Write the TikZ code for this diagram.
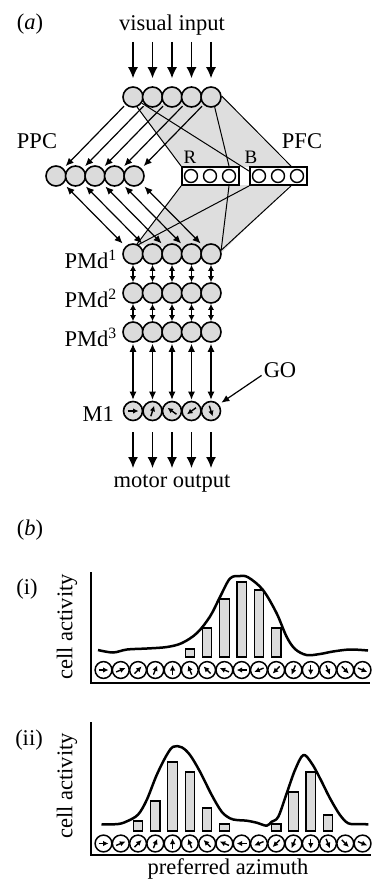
\documentclass[tikz,border=0pt]{standalone}
\usepackage{fontspec}
\setmainfont{Liberation Serif}
\usetikzlibrary{arrows.meta}
\definecolor{cellfill}{gray}{0.86}
\definecolor{regionfill}{gray}{0.87}
\begin{document}
\begin{tikzpicture}[x=1pt,y=-1pt,
  lab/.style={font=\fontsize{22.5}{26}\selectfont, inner sep=0pt},
  smalllab/.style={font=\fontsize{19}{22}\selectfont, inner sep=0pt},
  cell/.style={circle,draw,line width=1.6pt,fill=cellfill,minimum size=20pt,inner sep=0pt},
  mcell/.style={cell,minimum size=19pt},
  dircell/.style={circle,draw,line width=1.5pt,fill=white,minimum size=16.8pt,inner sep=0pt},
  pfcbox/.style={draw,line width=1.9pt,fill=white,minimum width=57pt,minimum height=18pt,inner sep=0pt},
  pfccell/.style={circle,draw,line width=1.4pt,fill=white,minimum size=13pt,inner sep=0pt},
  conn/.style={line width=1pt},
  arr/.style={line width=1.2pt,-{Latex[length=8pt,width=7pt]}},
  darr/.style={line width=1.2pt,{Latex[length=8pt,width=7pt]}-{Latex[length=8pt,width=7pt]}},
  sdarr/.style={line width=1.1pt,{Latex[length=6pt,width=6pt]}-{Latex[length=6pt,width=6pt]}},
  bigarr/.style={line width=1.3pt,-{Latex[length=11pt,width=10pt]}},
  inarr/.style={line width=1.4pt,-{Latex[length=5.5pt,width=5.5pt]}},
  bar/.style={draw,line width=1.2pt,fill=cellfill},
  axisline/.style={line width=1.5pt},
  curve/.style={line width=2.5pt,line join=round},
]
\useasboundingbox (0,0) rectangle (377,883);

% grey regions
\fill[regionfill] (137,107) -- (182,167) -- (290,167) -- (222,97) -- cycle;
\fill[regionfill] (182,185) -- (290,185) -- (222,252) -- (137,245) -- cycle;

% cell rows
\foreach \i in {0,...,4} {
  \node[cell] (v\i) at ({133+19.5*\i},97) {};
  \node[cell] (p\i) at ({56+19.5*\i},176) {};
  \node[cell] (d\i) at ({133+19.5*\i},254) {};
  \node[cell] (e\i) at ({133+19.5*\i},293) {};
  \node[cell] (f\i) at ({133+19.5*\i},332) {};
  \node[mcell] (m\i) at ({133+19.5*\i},411) {};
}

% PFC boxes
\node[pfcbox] (R) at (210.5,176) {};
\node[pfcbox] (B) at (278.5,176) {};
\foreach \j/\n in {-1/a,0/b,1/c} {
  \node[pfccell] (r\n) at ({210+19*\j},176) {};
  \node[pfccell] (b\n) at ({278+19*\j},176) {};
}

% labels
\node[lab,anchor=base] (la) at (30,30) {(\textit{a})};
\node[lab,anchor=base] (lvis) at (172,31) {visual input};
\node[lab,anchor=base] (lppc) at (37,148) {PPC};
\node[lab,anchor=base] (lpfc) at (302,148) {PFC};
\node[smalllab,anchor=base] (lr) at (190,163) {R};
\node[smalllab,anchor=base] (lb) at (251,163) {B};
\node[lab,anchor=base east] (lpmd1) at (117,268) {PMd\textsuperscript{1}};
\node[lab,anchor=base east] (lpmd2) at (117,307) {PMd\textsuperscript{2}};
\node[lab,anchor=base east] (lpmd3) at (117,346) {PMd\textsuperscript{3}};
\node[lab,anchor=base east] (lm1) at (114,421) {M1};
\node[lab,anchor=base] (go) at (280,377) {GO};
\node[lab,anchor=base] (lmot) at (172,487) {motor output};

% visual -> PFC and PFC -> PMd lines
\draw[conn] (v0.-68) -- (R.north west);
\draw[conn] (v0.-35) -- ([yshift=-5pt]B.north west);
\draw[conn] (v4.-70) -- (R.north -| rc);
\draw[conn] (v4.5) -- ([xshift=-17pt]B.north east);
\draw[conn] (R.south west) -- (d0.68);
\draw[conn] (B.south west) -- (d0.60);
\draw[conn] (R.south -| rc) -- (d4.20);
\draw[conn] ([xshift=-17pt]B.south east) -- (d4.20);

% arrows
\foreach \i in {0,...,4} {
  \coordinate (vi\i) at ({133+19.5*\i},42);
  \coordinate (mo\i) at ({133+19.5*\i},468);
  \draw[bigarr,shorten >=8pt] (vi\i) -- (v\i);
  \draw[arr,shorten <=2pt,shorten >=3pt] (v\i) -- (p\i);
  \draw[darr,shorten <=4pt,shorten >=4pt] (p\i) -- (d\i);
  \draw[sdarr] (d\i) -- (e\i);
  \draw[sdarr] (e\i) -- (f\i);
  \draw[darr,shorten <=1pt,shorten >=1pt] (f\i) -- (m\i);
  \draw[bigarr,shorten <=11pt] (m\i) -- (mo\i);
}
\draw[arr,shorten >=3pt] ([xshift=-2pt,yshift=2pt]go.south west) -- (m4.40);

% direction arrows in M1
\foreach \i/\a in {0/0,1/72,2/144,3/216,4/288} {
  \draw[inarr] ([shift={({180-\a}:5.5)}]m\i.center) -- ([shift={({-\a}:5.5)}]m\i.center);
}

% panel (b)
\node[lab,anchor=base] (lbb) at (30,535) {(\textit{b})};
\node[lab,anchor=base] (li) at (27,594) {(i)};
\node[lab,anchor=base] (lii) at (29,745) {(ii)};
\node[lab,rotate=90] (ya) at (67,627) {cell activity};
\node[lab,rotate=90] (yb) at (67,786) {cell activity};
\node[lab,anchor=base] (laz) at (228,874) {preferred azimuth};

% chart (i)
\draw[axisline] (91,572) -- (91,683) -- (370,683);
\foreach \i/\t in {5/649,6/628,7/599,8/582,9/590,10/628} {
  \draw[bar] ({103.5+17.27*\i-4.75},\t) rectangle ({103.5+17.27*\i+4.75},657);
}
\draw[curve] plot[smooth,tension=0.55] coordinates {(98,650) (113,652.5) (127,649.5) (147,648.5) (167,647) (182,643) (197,633) (210,616.5) (220,597) (230,578.5) (240,576) (248.5,577.5) (263,590) (276.5,613) (286.5,636.5) (295,649) (306.5,655) (320,654) (333,651.5) (350,649.5) (368,650.5)};
\foreach \i in {0,...,15} {
  \node[dircell] (ca\i) at ({103.5+17.27*\i},670) {};
  \draw[inarr] ([shift={({180-22.5*\i}:5)}]ca\i.center) -- ([shift={({-22.5*\i}:5)}]ca\i.center);
}

% chart (ii)
\draw[axisline] (91,722) -- (91,855) -- (371,855);
\foreach \i/\t in {2/821,3/801,4/762,5/772,6/808,7/824,10/824,11/792,12/772,13/815} {
  \draw[bar] ({103.5+17.27*\i-4.75},\t) rectangle ({103.5+17.27*\i+4.75},831);
}
\draw[curve] plot[smooth,tension=0.55] coordinates {(101.5,824.3) (118.3,824) (128.3,820.7) (138.3,814.3) (146.7,800) (156.7,775) (166.7,755) (173.3,746.7) (181.7,747.3) (190,755) (200,771.7) (211.7,795) (221.7,811.7) (230,818.3) (236.7,820) (246.7,820.7) (256.7,822.7) (266.7,825.7) (271.7,821.7) (278.3,816.7) (286.7,793.3) (295,770) (303.3,755) (311.7,763.3) (320,778.3) (330,798.3) (340,815) (348.3,823.3) (358.3,824) (368.3,824.3)};
\foreach \i in {0,...,15} {
  \node[dircell] (cb\i) at ({103.5+17.27*\i},843.5) {};
  \draw[inarr] ([shift={({180-22.5*\i}:5)}]cb\i.center) -- ([shift={({-22.5*\i}:5)}]cb\i.center);
}
\end{tikzpicture}
\end{document}
